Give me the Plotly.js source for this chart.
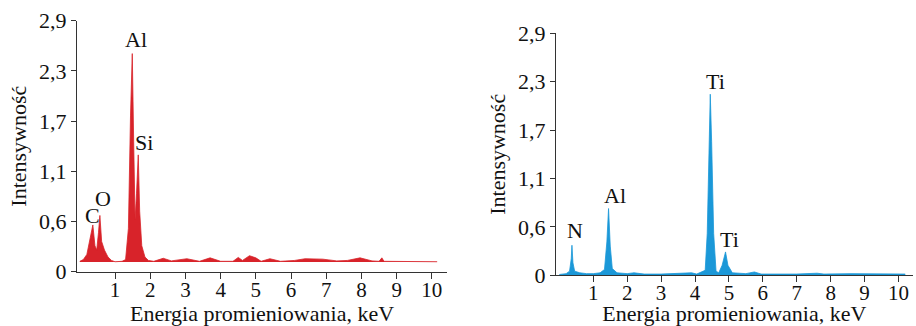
<!DOCTYPE html>
<html>
<head>
<meta charset="utf-8">
<script src="https://cdn.plot.ly/plotly-3.0.1.min.js"></script>
<style>html,body{margin:0;padding:0;background:#fff;}#chart{width:916px;height:326px;}</style>
</head>
<body>
<div id="chart"></div>
<script>
// ---- Data ----
const energyLeft = [0.0,0.1,0.2,0.3,0.37,0.43,0.48,0.53,0.57,0.62,0.7,0.8,0.9,1.0,1.2,1.3,1.38,1.44,1.49,1.53,1.57,1.61,1.66,1.7,1.76,1.85,1.95,2.1,2.37,2.6,3.04,3.4,3.7,4.0,4.35,4.5,4.62,4.82,5.0,5.15,5.4,5.7,6.1,6.4,6.9,7.3,7.6,7.96,8.3,8.5,8.58,8.64,10.15];
const intensityLeft = [0.12,0.14,0.2,0.38,0.54,0.3,0.25,0.45,0.65,0.35,0.25,0.17,0.13,0.115,0.12,0.14,0.5,1.8,2.52,1.5,0.6,0.9,1.35,0.7,0.3,0.17,0.13,0.12,0.155,0.125,0.15,0.12,0.16,0.12,0.12,0.165,0.13,0.185,0.16,0.12,0.15,0.12,0.13,0.15,0.145,0.125,0.13,0.16,0.125,0.12,0.16,0.12,0.115];
const baseLeft = 0.112;

const energyRight = [0.0,0.2,0.3,0.35,0.37,0.4,0.45,0.6,0.8,1.0,1.2,1.33,1.4,1.45,1.5,1.56,1.7,2.0,2.2,2.5,3.0,3.5,3.9,4.05,4.3,4.36,4.42,4.45,4.49,4.55,4.62,4.7,4.8,4.9,4.97,5.1,5.5,5.75,5.95,7.0,7.6,7.8,8.6,9.5,10.2];
const intensityRight = [0.01,0.02,0.05,0.2,0.36,0.15,0.05,0.03,0.02,0.02,0.03,0.07,0.4,0.8,0.35,0.08,0.03,0.02,0.03,0.015,0.015,0.02,0.03,0.015,0.06,0.5,1.6,2.17,1.6,0.5,0.05,0.03,0.12,0.28,0.12,0.03,0.02,0.04,0.015,0.015,0.025,0.015,0.02,0.015,0.015];
const baseRight = 0.005;

const labelsLeft = ["C","O","Al","Si"];
const labelPeaksLeft = [0.37,0.57,1.49,1.66];
const labelsRight = ["N","Al","Ti","Ti"];
const labelPeaksRight = [0.37,1.45,4.45,4.9];

const yTickVals = [0,0.58,1.16,1.74,2.32,2.9];
const yTickText = ["0","0,6","1,1","1,7","2,3","2,9"];
const xTickVals = [1,2,3,4,5,6,7,8,9,10];
const xTitle = "Energia promieniowania, keV";
const yTitle = "Intensywność";

const red = "#d8232a";
const blue = "#1b98d8";
const FONT = "'Liberation Serif', 'Times New Roman', serif";

const traces = [
  {x:[energyLeft[0], energyLeft[energyLeft.length-1]], y:[baseLeft, baseLeft], xaxis:'x', yaxis:'y', mode:'lines', line:{width:0, color:red}, hoverinfo:'skip', showlegend:false},
  {x:energyLeft, y:intensityLeft, xaxis:'x', yaxis:'y', mode:'lines', line:{width:0.8, color:red}, fill:'tonexty', fillcolor:red, showlegend:false},
  {x:[energyRight[0], energyRight[energyRight.length-1]], y:[baseRight, baseRight], xaxis:'x2', yaxis:'y2', mode:'lines', line:{width:0, color:blue}, hoverinfo:'skip', showlegend:false},
  {x:energyRight, y:intensityRight, xaxis:'x2', yaxis:'y2', mode:'lines', line:{width:0.8, color:blue}, fill:'tonexty', fillcolor:blue, showlegend:false}
];

const shiftsLeft = [[0,9],[3,17],[4,14],[6,12]];
const shiftsRight = [[3,15],[6,13],[5,13],[4,12]];
const annotations = [];
labelsLeft.forEach((t,i)=>{
  const idx = energyLeft.indexOf(labelPeaksLeft[i]);
  annotations.push({text:t, x:energyLeft[idx], y:intensityLeft[idx], xref:'x', yref:'y', showarrow:false, xanchor:'center', yanchor:'middle', xshift:shiftsLeft[i][0], yshift:shiftsLeft[i][1], font:{family:FONT, size:22, color:'#111'}});
});
labelsRight.forEach((t,i)=>{
  const idx = energyRight.indexOf(labelPeaksRight[i]);
  annotations.push({text:t, x:energyRight[idx], y:intensityRight[idx], xref:'x2', yref:'y2', showarrow:false, xanchor:'center', yanchor:'middle', xshift:shiftsRight[i][0], yshift:shiftsRight[i][1], font:{family:FONT, size:22, color:'#111'}});
});

function xax(domain, range, lso){
  return {domain:domain, range:range, showline:true, linecolor:'#333', linewidth:1, ticks:'outside', ticklen:6, tickcolor:'#333', tickvals:xTickVals, ticklabelstandoff:lso, showgrid:false, zeroline:false, tickfont:{family:FONT, size:21, color:'#111'}, title:{text:xTitle, font:{family:FONT, size:22, color:'#111'}, standoff:3}, automargin:false};
}
function yax(domain, anchor){
  return {domain:domain, range:[0,2.9], anchor:anchor, showline:true, linecolor:'#333', linewidth:1, ticks:'outside', ticklen:5, tickcolor:'#333', tickvals:yTickVals, ticktext:yTickText, showgrid:false, zeroline:false, tickfont:{family:FONT, size:22, color:'#111'}, title:{text:yTitle, font:{family:FONT, size:22, color:'#111'}, standoff:6}, automargin:false};
}

const layout = {
  width:916, height:326,
  margin:{l:0, r:0, t:0, b:0},
  paper_bgcolor:'#fff', plot_bgcolor:'#fff',
  showlegend:false,
  xaxis: Object.assign(xax([77/916, 447/916], [-0.08, 10.43], -7), {anchor:'y'}),
  yaxis: yax([1-271.7/326, 1-20.7/326], 'x'),
  xaxis2: Object.assign(xax([556/916, 912.7/916], [-0.1, 10.42], -8), {anchor:'y2'}),
  yaxis2: yax([1-275.3/326, 1-33.3/326], 'x2'),
  annotations: annotations
};

Plotly.newPlot('chart', traces, layout, {staticPlot:true, displayModeBar:false});
</script>
</body>
</html>
